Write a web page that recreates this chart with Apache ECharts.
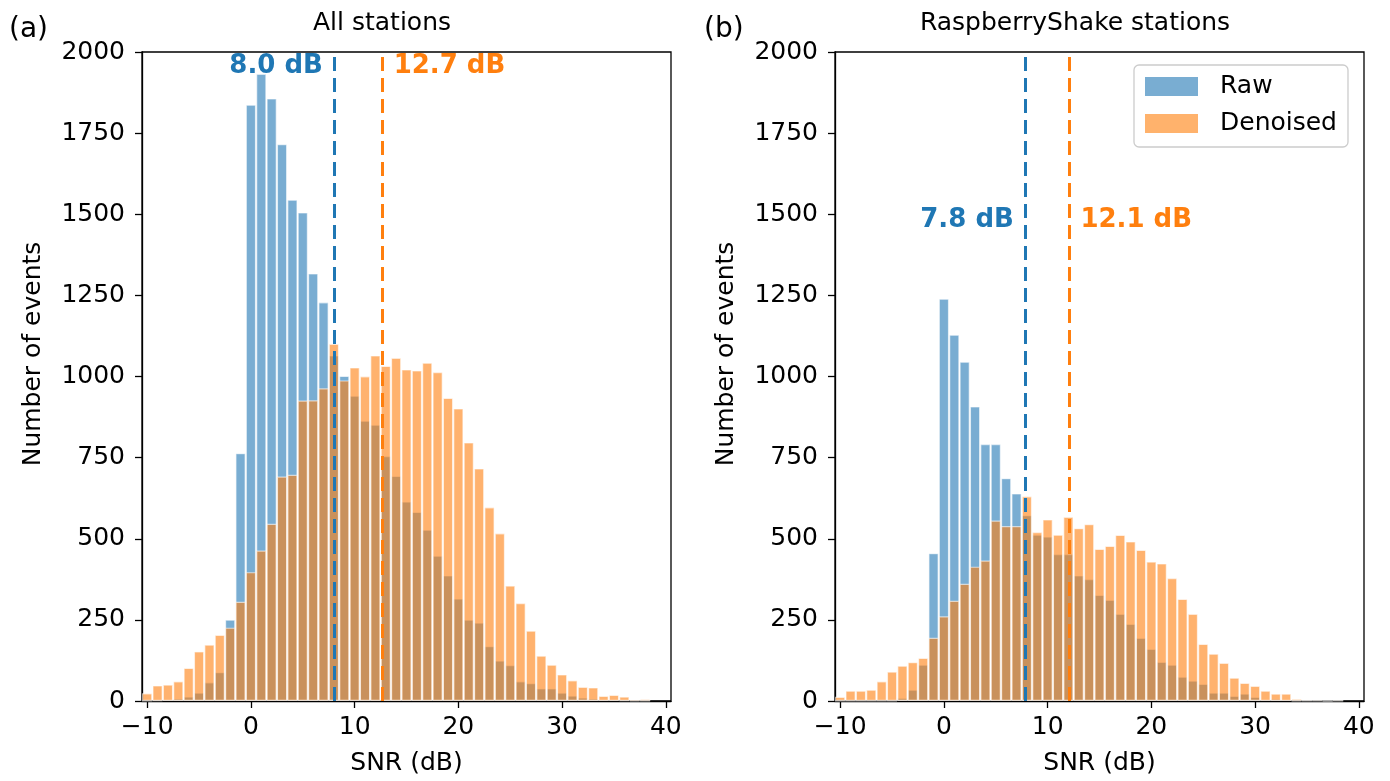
<!DOCTYPE html>
<html>
<head>
<meta charset="utf-8">
<title>SNR histograms</title>
<script src="https://cdn.jsdelivr.net/npm/echarts@6.0.0/dist/echarts.min.js"></script>
<style>
  html, body { margin: 0; padding: 0; background: #fff; }
  #main { width: 1390px; height: 781px; }
</style>
</head>
<body>
<div id="main"></div>
<script>
// histogram bin centres (dB)
var snrBins = [-10, -9, -8, -7, -6, -5, -4, -3, -2, -1,
  0, 1, 2, 3, 4, 5, 6, 7, 8, 9,
  10, 11, 12, 13, 14, 15, 16, 17, 18, 19,
  20, 21, 22, 23, 24, 25, 26, 27, 28, 29,
  30, 31, 32, 33, 34, 35, 36, 37, 38];

// (a) all stations
var rawAll = [0, 2, 5, 8, 14, 26, 58, 89, 251, 764,
  1838, 1933, 1857, 1716, 1545, 1506, 1318, 1229, 1065, 1002,
  941, 864, 852, 755, 694, 615, 583, 528, 448, 387,
  316, 251, 242, 169, 125, 111, 61, 55, 39, 39,
  26, 17, 11, 8, 4, 3, 2, 1, 1];
var denoisedAll = [24, 48, 51, 61, 102, 153, 174, 204, 226, 306,
  397, 464, 546, 692, 697, 926, 927, 964, 1101, 988,
  1028, 1001, 1065, 1033, 1058, 1022, 1019, 1043, 1014, 934,
  902, 797, 717, 597, 517, 356, 302, 217, 140, 112,
  82, 64, 44, 42, 16, 19, 14, 5, 6];

// (b) RaspberryShake stations
var rawRS = [0, 0, 0, 0, 0, 1, 10, 35, 112, 456,
  1240, 1129, 1046, 908, 792, 792, 687, 640, 573, 513,
  507, 453, 453, 387, 376, 327, 312, 269, 238, 195,
  161, 121, 112, 75, 63, 53, 26, 26, 16, 23,
  13, 4, 7, 4, 1, 1, 0, 0, 0];
var denoisedRS = [13, 32, 32, 35, 61, 91, 109, 120, 133, 195,
  261, 309, 361, 414, 433, 556, 539, 539, 631, 521,
  560, 513, 568, 533, 545, 469, 478, 512, 492, 466,
  430, 424, 379, 315, 269, 176, 146, 118, 72, 56,
  47, 32, 23, 23, 7, 4, 4, 1, 4];

// median SNR lines [raw, denoised]
var medianAll = [8.0, 12.7];
var medianRS = [7.8, 12.1];

var xTicks = [-10, 0, 10, 20, 30, 40];
var seriesNames = ['Raw', 'Denoised'];
var panelTitles = ['All stations', 'RaspberryShake stations'];
var panelTags = ['(a)', '(b)'];

var FONT = 'DejaVu Sans';
var BLUE = '#1f77b4';
var ORANGE = '#ff7f0e';

var chart = echarts.init(document.getElementById('main'), null, { renderer: 'canvas' });

function pairs(vals) {
  return snrBins.map(function (x, i) { return [x, vals[i]]; });
}

function fmtX(v) {
  return v < 0 ? '\u2212' + (-v) : String(v);
}

function makeXAxis(idx) {
  return {
    gridIndex: idx,
    type: 'value',
    min: -10.5,
    max: 40.5,
    name: 'SNR (dB)',
    nameLocation: 'middle',
    nameGap: 50,
    nameTextStyle: { fontSize: 25, color: '#000', fontFamily: FONT },
    axisLine: { show: true, onZero: false, lineStyle: { color: '#000', width: 1.3 } },
    axisTick: { show: true, length: 7, customValues: xTicks, lineStyle: { color: '#000', width: 1.3 } },
    axisLabel: { customValues: xTicks, formatter: fmtX, fontSize: 25, color: '#000', fontFamily: FONT, margin: 14 },
    splitLine: { show: false }
  };
}

function makeYAxis(idx) {
  return {
    gridIndex: idx,
    type: 'value',
    min: 0,
    max: 2000,
    interval: 250,
    axisLine: { show: true, onZero: false, lineStyle: { color: '#000', width: 1.3 } },
    axisTick: { show: true, length: 7, lineStyle: { color: '#000', width: 1.3 } },
    axisLabel: {
      fontSize: 25, color: '#000', fontFamily: FONT, margin: 17,
      formatter: function (v) { return String(v); }
    },
    splitLine: { show: false }
  };
}

function histSeries(name, idx, vals, color) {
  return {
    name: name,
    type: 'bar',
    xAxisIndex: idx,
    yAxisIndex: idx,
    data: pairs(vals),
    barWidth: '100%',
    barGap: '-100%',
    itemStyle: { color: color, opacity: 0.6, borderColor: '#fff', borderWidth: 1.2 }
  };
}

// dashed median line + bold label
function medianSeries(idx, xVal, labelY, color, side) {
  return {
    name: 'median-' + idx + '-' + color,
    type: 'line',
    xAxisIndex: idx,
    yAxisIndex: idx,
    data: [],
    markLine: {
      silent: true,
      symbol: ['none', 'none'],
      label: { show: false },
      lineStyle: { color: color, width: 3, type: [14, 7], opacity: 1 },
      data: [{ xAxis: xVal }]
    },
    markPoint: {
      symbol: 'circle',
      symbolSize: 0,
      itemStyle: { opacity: 1, color: color },
      label: {
        show: true,
        position: side,
        distance: 11,
        color: color,
        fontSize: 26,
        fontWeight: 'bold',
        fontFamily: FONT,
        formatter: xVal.toFixed(1) + ' dB'
      },
      data: [{ coord: [xVal, labelY] }]
    }
  };
}

var option = {
  animation: false,
  backgroundColor: '#fff',
  grid: [
    { left: 142, top: 52, width: 529, height: 651, show: true, borderColor: '#000', borderWidth: 1.3, containLabel: false },
    { left: 835, top: 52, width: 529, height: 651, show: true, borderColor: '#000', borderWidth: 1.3, containLabel: false }
  ],
  xAxis: [makeXAxis(0), makeXAxis(1)],
  yAxis: [makeYAxis(0), makeYAxis(1)],
  legend: {
    orient: 'vertical',
    left: 1134,
    top: 65,
    padding: [9, 11, 11, 11],
    itemGap: 12,
    itemWidth: 53,
    itemHeight: 19,
    icon: 'rect',
    borderColor: '#cccccc',
    borderWidth: 1.3,
    borderRadius: 5,
    backgroundColor: 'rgba(255,255,255,0.8)',
    textStyle: { fontSize: 25, color: '#000', fontFamily: FONT, padding: [0, 0, 0, 17] },
    data: [
      { name: seriesNames[0], itemStyle: { color: '#79add2', opacity: 1, borderWidth: 0 } },
      { name: seriesNames[1], itemStyle: { color: '#ffb26c', opacity: 1, borderWidth: 0 } }
    ]
  },
  graphic: [
    { type: 'text', x: 9, y: 30, style: { text: panelTags[0], fontSize: 28, fontFamily: FONT, fill: '#000', textAlign: 'left', textVerticalAlign: 'middle', align: 'left', verticalAlign: 'middle' } },
    { type: 'text', x: 704, y: 30, style: { text: panelTags[1], fontSize: 28, fontFamily: FONT, fill: '#000', textAlign: 'left', textVerticalAlign: 'middle', align: 'left', verticalAlign: 'middle' } },
    { type: 'text', x: 382, y: 23, style: { text: panelTitles[0], fontSize: 25, fontFamily: FONT, fill: '#000', textAlign: 'center', textVerticalAlign: 'middle', align: 'center', verticalAlign: 'middle' } },
    { type: 'text', x: 1075, y: 23, style: { text: panelTitles[1], fontSize: 25, fontFamily: FONT, fill: '#000', textAlign: 'center', textVerticalAlign: 'middle', align: 'center', verticalAlign: 'middle' } },
    { type: 'text', x: 33, y: 354, rotation: Math.PI / 2, style: { text: 'Number of events', fontSize: 25, fontFamily: FONT, fill: '#000', textAlign: 'center', textVerticalAlign: 'middle', align: 'center', verticalAlign: 'middle' } },
    { type: 'text', x: 726, y: 354, rotation: Math.PI / 2, style: { text: 'Number of events', fontSize: 25, fontFamily: FONT, fill: '#000', textAlign: 'center', textVerticalAlign: 'middle', align: 'center', verticalAlign: 'middle' } }
  ],
  series: [
    histSeries(seriesNames[0], 0, rawAll, BLUE),
    histSeries(seriesNames[1], 0, denoisedAll, ORANGE),
    histSeries(seriesNames[0], 1, rawRS, BLUE),
    histSeries(seriesNames[1], 1, denoisedRS, ORANGE),
    medianSeries(0, medianAll[0], 1956, BLUE, 'left'),
    medianSeries(0, medianAll[1], 1956, ORANGE, 'right'),
    medianSeries(1, medianRS[0], 1480, BLUE, 'left'),
    medianSeries(1, medianRS[1], 1480, ORANGE, 'right')
  ]
};

chart.setOption(option);
</script>
</body>
</html>
